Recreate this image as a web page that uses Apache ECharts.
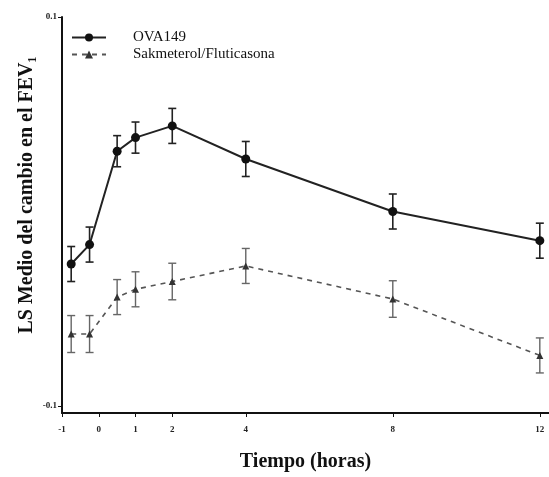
<!DOCTYPE html>
<html>
<head>
<meta charset="utf-8">
<script src="https://cdn.jsdelivr.net/npm/echarts@6/dist/echarts.min.js"></script>
<style>
  html, body { margin: 0; padding: 0; background: #fff; }
  #chart { width: 549px; height: 477px; }
</style>
</head>
<body>
<div id="chart"></div>
<script>
// time points (hours) and tick labels
var hours = [-0.75, -0.25, 0.5, 1, 2, 4, 8, 12];
var xTicks = [-1, 0, 1, 2, 4, 8, 12];
var yTicks = [-0.1, 0.1];

// LS mean change in FEV1 and half-width of the error bars
var ovaMean = [-0.027, -0.017, 0.031, 0.038, 0.044, 0.027, 0.000, -0.015];
var ovaErr = [0.009, 0.009, 0.008, 0.008, 0.009, 0.009, 0.009, 0.009];
var salMean = [-0.063, -0.063, -0.044, -0.040, -0.036, -0.028, -0.045, -0.074];
var salErr = [0.0095, 0.0095, 0.009, 0.009, 0.0094, 0.009, 0.0094, 0.009];

var serif = 'Liberation Serif';

function pairs(xs, ys) {
    return xs.map(function (x, i) { return [x, ys[i]]; });
}
function bars(xs, ys, es) {
    return xs.map(function (x, i) { return [x, ys[i] - es[i], ys[i] + es[i]]; });
}

function errorBar(color, width) {
    return function (params, api) {
        var x = api.value(0);
        var lo = api.coord([x, api.value(1)]);
        var hi = api.coord([x, api.value(2)]);
        var w = 4;
        var st = {stroke: color, lineWidth: width};
        return {
            type: 'group',
            children: [
                {type: 'line', shape: {x1: lo[0], y1: lo[1], x2: hi[0], y2: hi[1]}, style: st},
                {type: 'line', shape: {x1: hi[0] - w, y1: hi[1], x2: hi[0] + w, y2: hi[1]}, style: st},
                {type: 'line', shape: {x1: lo[0] - w, y1: lo[1], x2: lo[0] + w, y2: lo[1]}, style: st}
            ]
        };
    };
}

var myChart = echarts.init(document.getElementById('chart'));
option = {
    backgroundColor: '#ffffff',
    animation: false,
    grid: {left: 62, right: 0, top: 17, bottom: 59},
    legend: {
        orient: 'vertical',
        left: 66,
        top: 25,
        itemWidth: 34,
        itemHeight: 10,
        itemGap: 2,
        textStyle: {
            fontFamily: serif,
            fontSize: 15,
            color: '#111',
            padding: [0, 0, 0, 22]
        },
        data: ['OVA149', 'Sakmeterol/Fluticasona']
    },
    xAxis: {
        type: 'value',
        min: -1,
        max: 12.25,
        name: 'Tiempo (horas)',
        nameLocation: 'middle',
        nameGap: 39,
        nameTextStyle: {fontFamily: serif, fontSize: 20, fontWeight: 'bold', color: '#111'},
        axisLine: {onZero: false, lineStyle: {color: '#111', width: 2}},
        axisTick: {show: true, length: 4, customValues: xTicks, lineStyle: {color: '#111'}},
        axisLabel: {
            customValues: xTicks,
            fontFamily: serif,
            fontSize: 9,
            fontWeight: 'bold',
            color: '#222',
            margin: 12
        },
        splitLine: {show: false}
    },
    yAxis: {
        type: 'value',
        min: -0.1036,
        max: 0.1,
        axisLine: {show: true, onZero: false, lineStyle: {color: '#111', width: 2}},
        axisTick: {show: true, length: 4, customValues: yTicks, lineStyle: {color: '#111'}},
        axisLabel: {
            customValues: yTicks,
            formatter: function (v) { return v > 0 ? '0.1' : '-0.1'; },
            fontFamily: serif,
            fontSize: 9,
            fontWeight: 'bold',
            color: '#222',
            margin: 5
        },
        splitLine: {show: false}
    },
    graphic: [{
        type: 'text',
        x: 27,
        y: 195,
        rotation: Math.PI / 2,
        style: {
            text: 'LS Medio del cambio en el FEV\u2081',
            font: 'bold 20px "Liberation Serif"',
            fill: '#111',
            align: 'center',
            verticalAlign: 'middle'
        }
    }],
    series: [
        {
            name: 'OVA149',
            type: 'line',
            data: pairs(hours, ovaMean),
            symbol: 'circle',
            symbolSize: 9,
            itemStyle: {color: '#111'},
            lineStyle: {color: '#222', width: 2}
        },
        {
            name: 'Sakmeterol/Fluticasona',
            type: 'line',
            data: pairs(hours, salMean),
            symbol: 'triangle',
            symbolSize: 7,
            itemStyle: {color: '#333'},
            lineStyle: {color: '#555', width: 1.6, type: [5, 5]}
        },
        {
            type: 'custom',
            renderItem: errorBar('#222', 1.6),
            data: bars(hours, ovaMean, ovaErr),
            encode: {x: 0, y: [1, 2]},
            z: 3
        },
        {
            type: 'custom',
            renderItem: errorBar('#666', 1.4),
            data: bars(hours, salMean, salErr),
            encode: {x: 0, y: [1, 2]},
            z: 3
        }
    ]
};
myChart.setOption(option);
</script>
</body>
</html>
